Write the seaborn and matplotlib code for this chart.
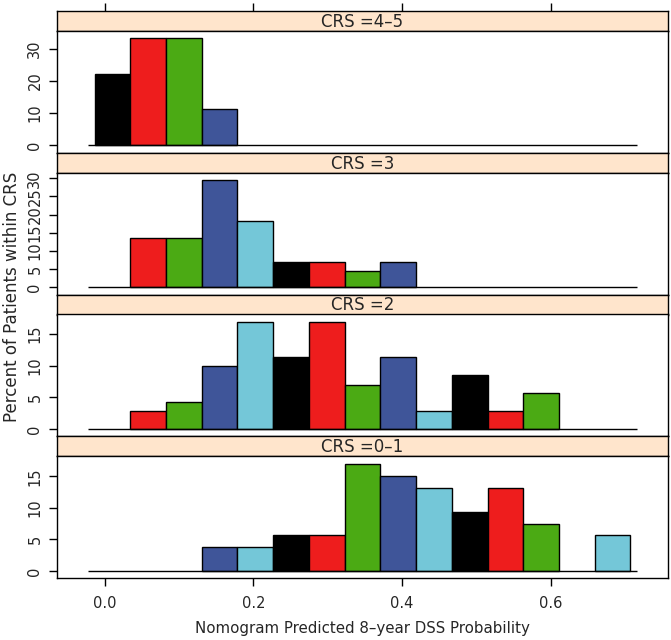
import numpy as np
import pandas as pd
import matplotlib
matplotlib.use("Agg")
import matplotlib.pyplot as plt
import seaborn as sns

sns.set_theme(style="white")
plt.rcParams["font.family"] = ["DejaVu Sans"]

# histogram bins (lattice style: 15 equal bins)
bin_start = -0.014
bin_width = 0.0481
n_bins = 15

panel_labels = ["CRS =4–5", "CRS =3", "CRS =2", "CRS =0–1"]
pct_crs45 = [22.2, 33.3, 33.3, 11.1, 0, 0, 0, 0, 0, 0, 0, 0, 0, 0, 0]
pct_crs3 = [0, 13.6, 13.6, 29.5, 18.2, 6.8, 6.8, 4.5, 6.8, 0, 0, 0, 0, 0, 0]
pct_crs2 = [0, 2.8, 4.2, 9.9, 16.9, 11.3, 16.9, 7.0, 11.3, 2.8, 8.5, 2.8, 5.6, 0, 0]
pct_crs01 = [0, 0, 0, 3.8, 3.8, 5.7, 5.7, 17.0, 15.1, 13.2, 9.4, 13.2, 7.5, 0, 5.7]
yticks_list = [[0, 10, 20, 30], [0, 5, 10, 15, 20, 25, 30], [0, 5, 10, 15], [0, 5, 10, 15]]
xticks = [0.0, 0.2, 0.4, 0.6]
xticklabels = ["0.0", "0.2", "0.4", "0.6"]

palette = ["#000000", "#EE1D1D", "#4BAA14", "#3F5599", "#74C7D8"]
strip_bg = "#FFE5CC"

edges = bin_start + bin_width * np.arange(n_bins + 1)
centers = (edges[:-1] + edges[1:]) / 2
span = edges[-1] - edges[0]
xlim = (edges[0] - 0.07 * span, edges[-1] + 0.07 * span)
base = (edges[0] - 0.0125 * span, edges[-1] + 0.0125 * span)

W, H = 671, 640
fig = plt.figure(figsize=(W / 100, H / 100), dpi=100)


def box(x0, y0, x1, y1):
    return [x0 / W, 1 - y1 / H, (x1 - x0) / W, (y1 - y0) / H]


left, right = 57, 668
top, unit, strip = 10.7, 141.9, 20
fs = 10.5

all_pct = [pct_crs45, pct_crs3, pct_crs2, pct_crs01]
for i, (label, pct, yt) in enumerate(zip(panel_labels, all_pct, yticks_list)):
    y0 = top + i * unit
    sax = fig.add_axes(box(left, y0, right, y0 + strip))
    sax.set_facecolor(strip_bg)
    sax.set_xlim(*xlim)
    sax.set_yticks([])
    sax.text(0.5, 0.45, label, ha="center", va="center", transform=sax.transAxes, fontsize=12)
    if i == 0:
        sax.set_xticks(xticks)
        sax.tick_params(axis="x", top=True, bottom=False, labeltop=False, labelbottom=False,
                        length=6, width=1, color="black", direction="out")
    else:
        sax.set_xticks([])
    for s in sax.spines.values():
        s.set_color("black")
        s.set_linewidth(1)

    ax = fig.add_axes(box(left, y0 + strip, right, top + (i + 1) * unit))
    df = pd.DataFrame({"x": centers, "pct": pct})
    sns.histplot(data=df, x="x", weights="pct", bins=n_bins,
                 binrange=(edges[0], edges[-1]), stat="count", ax=ax,
                 alpha=1, edgecolor="black", linewidth=1)
    for k, p in enumerate(ax.patches):
        p.set_facecolor(palette[k % len(palette)])
        if p.get_height() == 0:
            p.set_visible(False)
    ax.hlines(0, base[0], base[1], color="black", linewidth=1)
    m = max(pct)
    ax.set_ylim(-0.07 * m, 1.07 * m)
    ax.set_xlim(*xlim)
    ax.set_yticks(yt)
    ax.set_yticklabels([str(v) for v in yt], rotation=90, va="center", fontsize=fs)
    ax.tick_params(axis="y", left=True, length=6, width=1, color="black", pad=4.5)
    ax.set_xlabel("")
    ax.set_ylabel("")
    if i == 3:
        ax.set_xticks(xticks)
        ax.set_xticklabels(xticklabels, fontsize=fs)
        ax.tick_params(axis="x", bottom=True, length=6, width=1, color="black", pad=7)
    else:
        ax.set_xticks([])
    for s in ax.spines.values():
        s.set_color("black")
        s.set_linewidth(1)

fig.text((left + right) / 2 / W, 1 - 629 / H, "Nomogram Predicted 8–year DSS Probability",
         ha="center", va="center", fontsize=10.8)
fig.text(12 / W, 1 - 297 / H, "Percent of Patients within CRS", rotation=90,
         ha="center", va="center", fontsize=12)

fig.savefig("out.png", dpi=100)
